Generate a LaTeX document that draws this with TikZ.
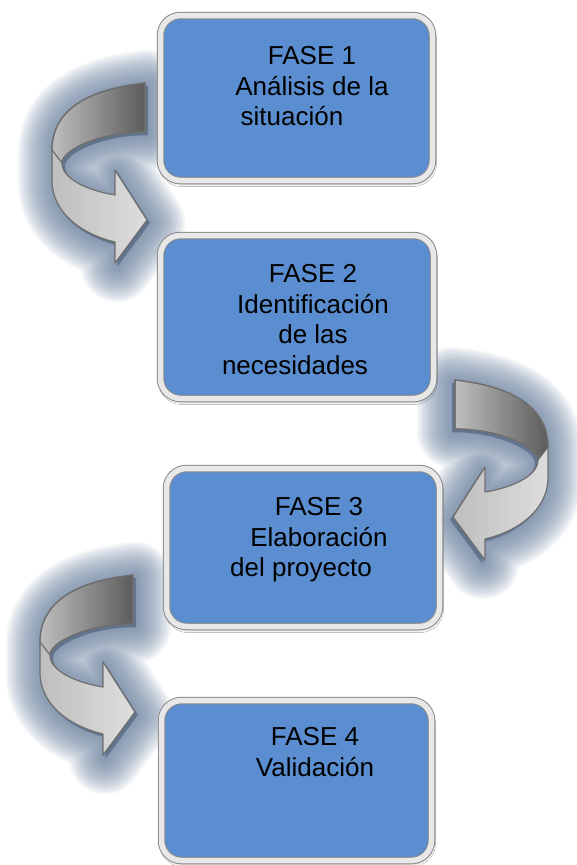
\documentclass[tikz,border=0pt]{standalone}
\usepackage{fontspec}
\setmainfont{Liberation Sans}
\usetikzlibrary{shadows.blur}
\definecolor{boxblue}{HTML}{5A8ED0}
\definecolor{framegrey}{HTML}{8A8A8A}
\definecolor{framecore}{HTML}{E8E8E8}
\definecolor{glowcol}{HTML}{6A82A0}
\definecolor{shadecol}{HTML}{5F7189}
\definecolor{banddark}{HTML}{5C5C5C}
\definecolor{bandmid}{HTML}{BEBEBE}
\definecolor{bandlight}{HTML}{DEDEDE}
\definecolor{bandedge}{HTML}{6E6E6E}

% outline of the bent arrow, origin at the top of its tail
\newcommand{\bentpath}{(0,0) .. controls (-65,7) and (-93,32) .. (-93,67)
  -- (-93,97) .. controls (-93,132) and (-60,152) .. (-30,159)
  -- (-30,180) -- (2,137) -- (-30,87) -- (-30,112)
  .. controls (-60,107) and (-83,95) .. (-83,80)
  .. controls (-83,67) and (-45,49) .. (0,49) -- cycle}
\newcommand{\bentupper}{(0,0) .. controls (-65,7) and (-93,32) .. (-93,67)
  -- (-83,80) .. controls (-83,67) and (-45,49) .. (0,49) -- cycle}
\newcommand{\bentarrow}{%
  \foreach \w in {72,68,...,4}
    {\fill[glowcol,opacity=0.075,draw,line width=\w pt,line join=round,
           shift={(2,3)}] \bentpath;}
  \fill[shadecol,opacity=0.8,shift={(3,3)}] \bentpath;
  \shade[left color=bandmid,right color=bandlight] \bentpath;
  \shade[left color=bandmid,right color=banddark] \bentupper;
  \draw[bandedge,line width=1.2pt,line join=round] \bentpath;
  \draw[bandedge,line width=1.2pt,line join=round] \bentupper;
}

\begin{document}
\begin{tikzpicture}[x=1pt,y=-1pt,
  frame/.style={draw=framegrey,line width=1pt,double=framecore,
                double distance=5.5pt,fill=boxblue,rounded corners=20pt,
                inner sep=0pt,
                blur shadow={shadow xshift=1pt,shadow yshift=-3pt,
                             shadow blur radius=3pt,shadow opacity=40}},
  txt/.style={anchor=north,align=center,inner sep=0pt,
              font=\fontsize{26}{30.5}\selectfont},
]
\fill[white] (0,0) rectangle (577,865);
\useasboundingbox (0,0) rectangle (577,865);

% arrows behind the boxes
\begin{scope}[shift={(145,83)}]\bentarrow\end{scope}
\begin{scope}[shift={(455,380)},xscale=-1]\bentarrow\end{scope}
\begin{scope}[shift={(133,575)}]\bentarrow\end{scope}

% the four phases
\node[frame,minimum width=272pt,minimum height=165pt] (f1) at (296.5,98) {};
\node[frame,minimum width=273pt,minimum height=163pt] (f2) at (297,317) {};
\node[frame,minimum width=273pt,minimum height=158pt] (f3) at (303,547.5) {};
\node[frame,minimum width=270pt,minimum height=160pt] (f4) at (296.5,780.5) {};

\node[txt] (t1) at (312,46.4) {FASE 1\\ Análisis de la\\ situación\hspace*{40pt}};
\node[txt] (t2) at (313,264.4) {FASE 2\\ Identificación\\ de las\hspace*{36pt}\\ necesidades\hspace*{36pt}};
\node[txt] (t3) at (319,497.4) {FASE 3\\ Elaboración\\ del proyecto\hspace*{36pt}};
\node[txt] (t4) at (315,727.4) {FASE 4\\ Validación};
\end{tikzpicture}
\end{document}
